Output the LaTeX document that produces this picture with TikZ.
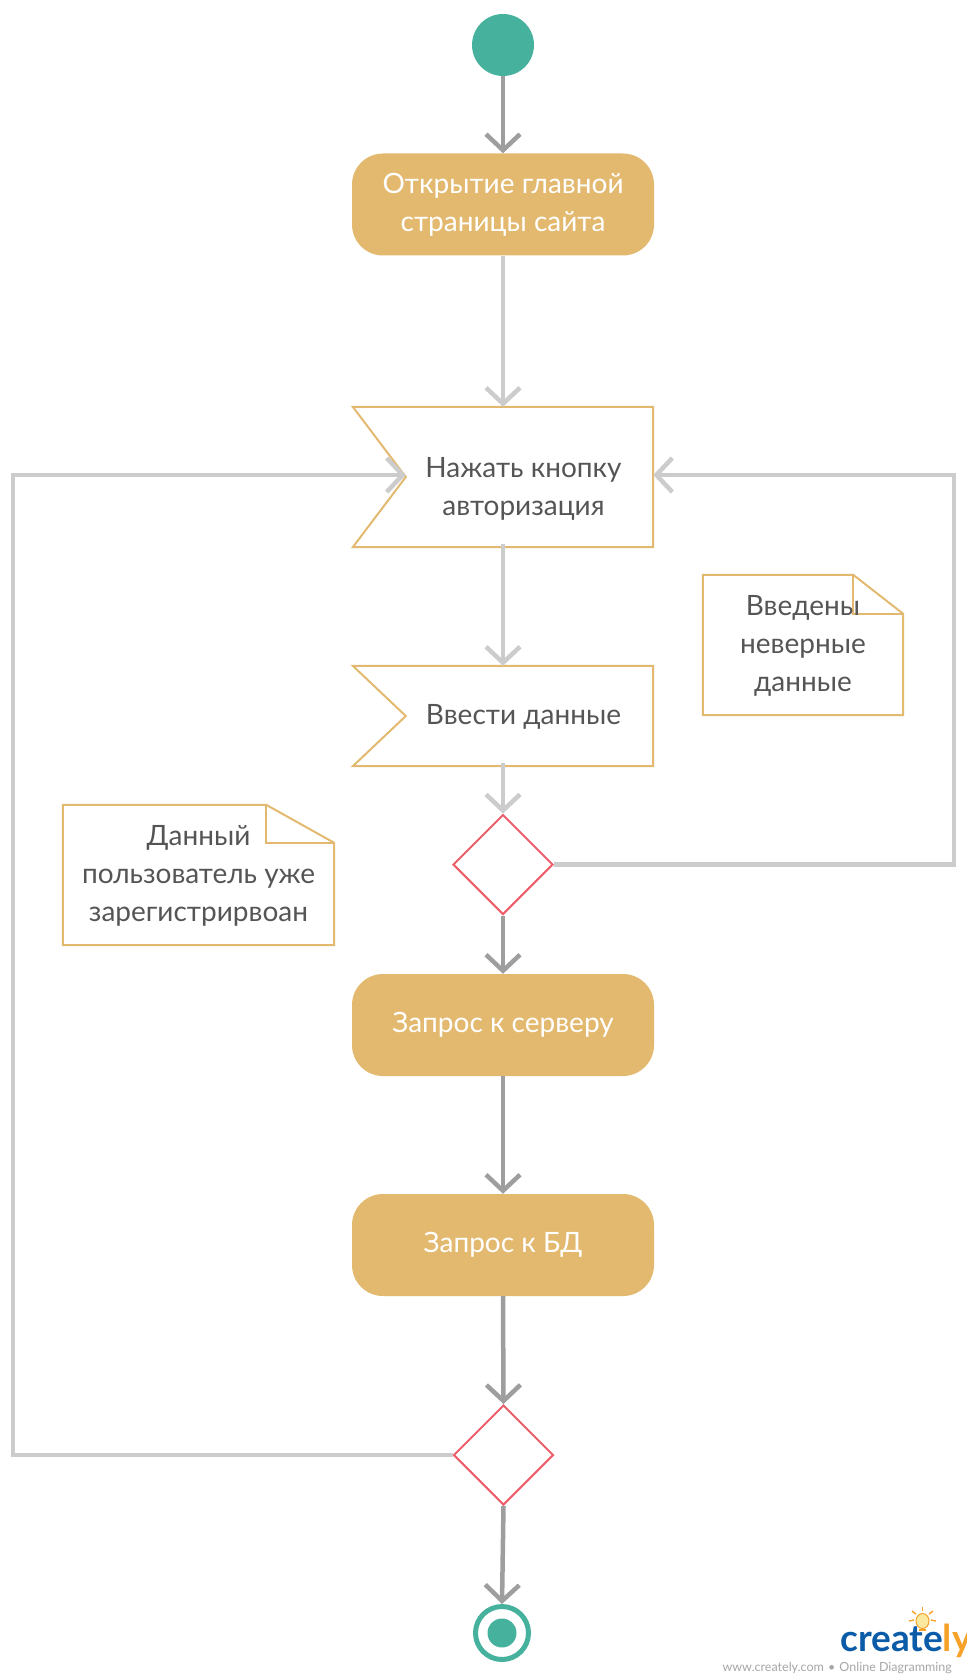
\documentclass[tikz,border=0pt]{standalone}
\usepackage{fontspec}
\setmainfont{Lato}
\usetikzlibrary{arrows.meta,calc,shapes.geometric}
\definecolor{teal}{HTML}{46B29D}
\definecolor{gold}{HTML}{E3B96F}
\definecolor{redd}{HTML}{EC5F6B}
\definecolor{darkline}{HTML}{9E9E9E}
\definecolor{lightline}{HTML}{CCCCCC}
\definecolor{txt}{HTML}{555555}
\definecolor{logoblue}{HTML}{0B5CA8}
\definecolor{logoorange}{HTML}{F6A229}
\definecolor{bulb}{HTML}{FBE9A0}
\tikzset{
  lbl/.style={font=\fontsize{28}{38}\selectfont,align=center,text=txt,inner sep=0pt},
  action/.style={rectangle,rounded corners=31pt,fill=gold,minimum width=302pt,minimum height=102pt,
     text=white,font=\fontsize{28}{38}\selectfont,align=center,inner sep=0pt},
  frame/.style={rectangle,minimum width=300pt,inner sep=0pt},
  outline/.style={draw=gold,line width=2pt,line join=miter},
  decision/.style={diamond,draw=redd,line width=2pt,minimum width=100pt,minimum height=100pt,aspect=1,inner sep=0pt,fill=white},
  conn/.style={line width=4.5pt,line join=miter,-{Straight Barb[length=16pt,width=34pt,line width=4.5pt]}},
  dark/.style={conn,draw=darkline},
  light/.style={conn,draw=lightline},
  ray/.style={draw=logoorange,line width=1.4pt},
}
\begin{document}
\begin{tikzpicture}[x=1pt,y=-1pt]
\useasboundingbox (0,0) rectangle (966,1680);
% nodes
\node[circle,fill=teal,minimum size=62pt,inner sep=0pt] (start) at (503,45) {};
\node[action] (open) at (503,204.5) {Открытие главной\\страницы сайта};
\node[frame,minimum height=140pt] (f1) at (503,477) {};
\draw[outline] (f1.north west) -- (f1.north east) -- (f1.south east) -- (f1.south west) -- ($(f1.west)+(53,0)$) -- cycle;
\node[lbl] (f1t) at (523.5,489) {Нажать кнопку\\авторизация};
\node[frame,minimum height=100pt] (f2) at (503,716) {};
\draw[outline] (f2.north west) -- (f2.north east) -- (f2.south east) -- (f2.south west) -- ($(f2.west)+(53,0)$) -- cycle;
\node[lbl] (f2t) at (523.5,717) {Ввести данные};
\node[decision] (d1) at (503,864.5) {};
\node[action] (srv) at (503,1025) {Запрос к серверу};
\node[action] (db) at (503,1245) {Запрос к БД};
\node[decision] (d2) at (503.5,1455) {};
\node[circle,draw=teal,line width=5pt,minimum size=53pt,inner sep=0pt] (stop) at (502,1633) {};
\node[circle,fill=teal,minimum size=29pt,inner sep=0pt] (stopin) at (502,1633) {};
% notes
\node[rectangle,minimum width=200pt,minimum height=140pt,inner sep=0pt] (n1) at (803,645) {};
\coordinate (n1a) at ($(n1.north east)+(-50,0)$);
\coordinate (n1b) at ($(n1.north east)+(0,39)$);
\draw[outline] (n1a) -- (n1.north west) -- (n1.south west) -- (n1.south east) -- (n1b) -- cycle;
\draw[outline] (n1a) |- (n1b);
\node[lbl] (n1t) at (803,646) {Введены\\неверные\\данные};
\node[rectangle,minimum width=271pt,minimum height=140pt,inner sep=0pt] (n2) at (198.5,875) {};
\coordinate (n2a) at ($(n2.north east)+(-68,0)$);
\coordinate (n2b) at ($(n2.north east)+(0,38)$);
\draw[outline] (n2a) -- (n2.north west) -- (n2.south west) -- (n2.south east) -- (n2b) -- cycle;
\draw[outline] (n2a) |- (n2b);
\node[lbl] (n2t) at (198.5,876) {Данный\\пользователь уже\\зарегистрирвоан};
% connectors
\draw[dark] (start.south) -- (open.north);
\draw[light] (open.south) -- (f1.north);
\draw[light] ($(f1.south)+(0,-3)$) -- (f2.north);
\draw[light] ($(f2.south)+(0,-3)$) -- (d1.north);
\draw[dark] (d1.south) -- (srv.north);
\draw[dark] (srv.south) -- (db.north);
\draw[dark] (db.south) -- (d2.north);
\draw[dark] (d2.south) -- (stop.north);
\coordinate (lc) at (13,475);
\coordinate (rc) at (954,475);
\draw[light] (d2.west) -| (lc) -- ($(f1.west)+(53,-2)$);
\draw[light] (d1.east) -| (rc) -- ($(f1.east)+(0,-2)$);
% logo
\node[anchor=base west,inner sep=0pt,font=\fontsize{37}{37}\selectfont\bfseries] (logo) at (840,1651)
  {\textcolor{logoblue}{create}\textcolor{logoorange}{ly}};
\node[anchor=base east,inner sep=0pt,font=\fontsize{12.5}{14}\selectfont,text=black!35] (tag) at (952,1671)
  {www.creately.com\,\,•\,\,Online Diagramming};
\node[ellipse,draw=logoorange,fill=bulb,line width=1pt,minimum width=13pt,minimum height=15pt,inner sep=0pt] (bulbn) at (922.5,1621) {};
\draw[logoorange,line width=2pt] (919,1630) -- (926,1630);
\draw[ray] (922.5,1607) -- (922.5,1611);
\draw[ray] (912,1611) -- (916,1614);
\draw[ray] (933,1611) -- (929,1614);
\draw[ray] (909,1621) -- (914,1620);
\draw[ray] (936,1621) -- (931,1620);
\end{tikzpicture}
\end{document}
